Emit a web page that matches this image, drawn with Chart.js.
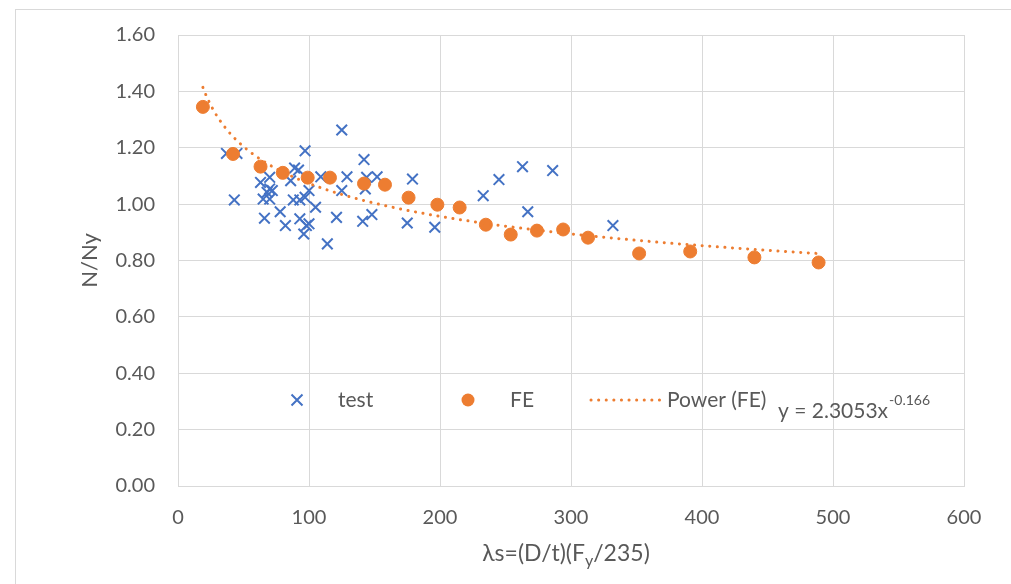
<!DOCTYPE html>
<html>
<head>
<meta charset="utf-8">
<script src="https://cdn.jsdelivr.net/npm/chart.js@4"></script>
<style>
  body { margin: 0; background: #fff; }
  #wrap { width: 1011px; height: 584px; position: relative; }
</style>
</head>
<body>
<div id="wrap"><canvas id="myChart"></canvas></div>
<script>
// test results (blue crosses)
let testX = [37, 45, 43, 125, 97, 142, 179, 129, 152, 144, 109, 89, 92, 70, 63, 86, 70, 72, 68, 65,
  70, 88, 93, 100, 97, 105, 125, 143, 66, 78, 82, 93, 98, 96, 100, 114, 121, 141, 148, 175,
  196, 233, 245, 263, 286, 267, 332];
let testY = [1.18, 1.18, 1.015, 1.263, 1.189, 1.158, 1.089, 1.097, 1.097, 1.095, 1.097, 1.128, 1.121, 1.095, 1.077, 1.083, 1.054, 1.048, 1.042, 1.018,
  1.018, 1.015, 1.015, 1.048, 1.024, 0.989, 1.048, 1.054, 0.95, 0.973, 0.924, 0.948, 0.924, 0.894, 0.93, 0.859, 0.953, 0.939, 0.963, 0.933,
  0.918, 1.03, 1.087, 1.133, 1.119, 0.973, 0.924];

// FE results (orange dots)
let feX = [19, 42, 63, 80, 99, 116, 142, 158, 176, 198, 215, 235, 254, 274, 294, 313, 352, 391, 440, 489];
let feY = [1.345, 1.178, 1.133, 1.111, 1.094, 1.094, 1.073, 1.069, 1.023, 0.998, 0.988, 0.927, 0.892, 0.906, 0.91, 0.881, 0.825, 0.832, 0.811, 0.793];

// power trendline shown on the chart: y = 2.3053x^-0.166
const powA = 2.3053;
const powB = -0.166;

const blue = "#4472C4";
const orange = "#ED7D31";
const grey = "#595959";
const gridCol = "#d9d9d9";
const fontFam = "Lato, 'Open Sans', sans-serif";

let trend = [];
for (let x = feX[0]; x <= feX[feX.length - 1]; x += 2) {
  trend.push({ x: x, y: powA * Math.pow(x, powB) });
}

// frame, legend and x title (has a subscript)
const extras = {
  id: "extras",
  beforeDraw(chart) {
    const c = chart.ctx;
    c.save();
    c.strokeStyle = gridCol;
    c.lineWidth = 1;
    c.strokeRect(15.5, 9.5, 1100, 700);
    c.restore();
  },
  afterDraw(chart) {
    const c = chart.ctx;
    const a = chart.chartArea;
    c.save();
    c.fillStyle = grey;
    c.textBaseline = "alphabetic";

    // x axis title
    const p1 = "λs=(D/t)(F", p2 = "y", p3 = "/235)";
    c.font = "23px " + fontFam;
    let w1 = c.measureText(p1).width, w3 = c.measureText(p3).width;
    c.font = "16px " + fontFam;
    let w2 = c.measureText(p2).width;
    let tx = (a.left + a.right) / 2 - (w1 + w2 + w3) / 2 - 5;
    let ty = 561;
    c.font = "23px " + fontFam;
    c.fillText(p1, tx, ty);
    c.font = "16px " + fontFam;
    c.fillText(p2, tx + w1, ty + 5);
    c.font = "23px " + fontFam;
    c.fillText(p3, tx + w1 + w2, ty);

    // legend
    const ly = 400;
    c.strokeStyle = blue;
    c.lineWidth = 2;
    c.beginPath();
    c.moveTo(291.5, ly - 5.5); c.lineTo(302.5, ly + 5.5);
    c.moveTo(302.5, ly - 5.5); c.lineTo(291.5, ly + 5.5);
    c.stroke();
    c.font = "21px " + fontFam;
    c.textBaseline = "middle";
    c.fillText("test", 338, ly);

    c.fillStyle = orange;
    c.beginPath();
    c.arc(468, ly, 6.5, 0, Math.PI * 2);
    c.fill();
    c.fillStyle = grey;
    c.fillText("FE", 510, ly);

    c.strokeStyle = orange;
    c.lineWidth = 3;
    c.lineCap = "round";
    c.setLineDash([0.1, 7.5]);
    c.beginPath();
    c.moveTo(591, ly); c.lineTo(660, ly);
    c.stroke();
    c.setLineDash([]);
    c.fillText("Power (FE)", 667, ly);

    // trendline equation
    c.textBaseline = "alphabetic";
    const e1 = "y = " + powA + "x";
    c.font = "21px " + fontFam;
    c.fillText(e1, 778, 418);
    let we = c.measureText(e1).width;
    c.font = "14px " + fontFam;
    c.fillText(String(powB), 778 + we + 1, 405);
    c.restore();
  }
};

const ctx = document.getElementById("myChart");

new Chart(ctx, {
  type: "scatter",
  data: {
    datasets: [
      {
        label: "Power (FE)",
        type: "line",
        data: trend,
        borderColor: orange,
        borderWidth: 3,
        borderDash: [0.1, 7.5],
        borderCapStyle: "round",
        pointRadius: 0,
        fill: false,
        tension: 0,
        order: 0,
      },
      {
        label: "FE",
        data: feX.map((x, i) => ({ x: x, y: feY[i] })),
        backgroundColor: orange,
        borderColor: orange,
        pointRadius: 6.5,
        pointHoverRadius: 6.5,
        order: 1,
      },
      {
        label: "test",
        data: testX.map((x, i) => ({ x: x, y: testY[i] })),
        pointStyle: "crossRot",
        borderColor: blue,
        borderWidth: 2,
        pointRadius: 7.5,
        pointHoverRadius: 7.5,
        order: 2,
      },
    ],
  },
  options: {
    responsive: true,
    maintainAspectRatio: false,
    animation: false,
    layout: { padding: { top: 34, right: 47, left: 0, bottom: 0 } },
    plugins: {
      legend: { display: false },
      tooltip: { enabled: false },
    },
    scales: {
      x: {
        type: "linear",
        min: 0,
        max: 600,
        ticks: {
          stepSize: 100,
          color: grey,
          font: { family: fontFam, size: 20 },
          padding: 20,
        },
        grid: { color: gridCol, drawTicks: false },
        border: { color: gridCol },
        afterFit: (axis) => { axis.height = 98; },
      },
      y: {
        min: 0,
        max: 1.6,
        ticks: {
          stepSize: 0.2,
          color: grey,
          font: { family: fontFam, size: 20 },
          padding: 23,
          callback: (v) => v.toFixed(2),
        },
        grid: { color: gridCol, drawTicks: false },
        border: { color: gridCol },
        title: {
          display: true,
          text: "N/Ny",
          color: grey,
          font: { family: fontFam, size: 22 },
          padding: { top: 77, bottom: 0 },
        },
        afterFit: (axis) => { axis.width = 178; },
      },
    },
  },
  plugins: [extras],
});
</script>
</body>
</html>
